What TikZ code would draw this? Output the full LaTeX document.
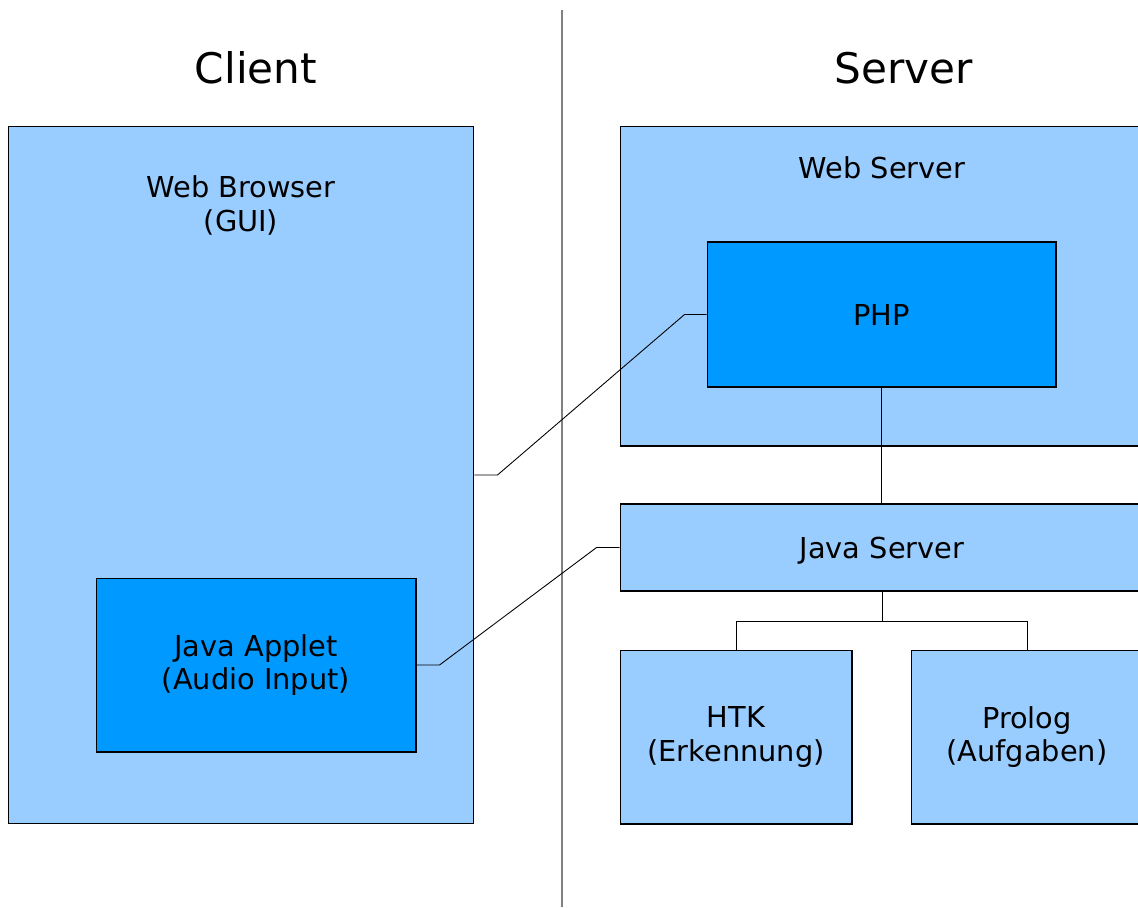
\documentclass[tikz,border=0pt]{standalone}
\usepackage{fontspec}
\setmainfont{DejaVu Sans}
\usepackage{xcolor}
\usepackage{tikz}
\usetikzlibrary{positioning,calc}
\definecolor{paleblue}{RGB}{153,204,255}
\definecolor{deepblue}{RGB}{0,153,255}

\begin{document}
\begin{tikzpicture}[x=0.02cm, y=-0.02cm,
  side/.style={font=\fontsize{24}{28}\selectfont},
  lbl/.style={align=center, font=\fontsize{16.4}{19}\selectfont},
  outer/.style={draw, line width=0.6pt, fill=paleblue, align=center, inner sep=0pt, font=\fontsize{16.4}{19}\selectfont},
  inner/.style={draw, line width=0.6pt, fill=deepblue, align=center, inner sep=0pt, font=\fontsize{16.4}{19}\selectfont},
  link/.style={line width=0.5pt, line join=miter},
]
  \useasboundingbox (0,0) rectangle (1138,907);
  \clip (0,0) rectangle (1138,907);

  % divider
  \coordinate (top) at (562,10);
  \coordinate (bottom) at (562,907);
  \draw[gray, line width=0.6pt] (top) -- (bottom);
  \node[side] (client) at (256,68) {Client};
  \node[side] (server) at (904,68) {Server};

  % client side
  \node[outer, minimum width=9.32cm, minimum height=13.96cm] (browser) at (241,475) {};
  \node[lbl] (browsertxt) at (241,205.5) {Web Browser\\(GUI)};
  \node[inner, minimum width=6.4cm, minimum height=3.48cm] (applet) at (256,665) {Java Applet\\(Audio Input)};

  % server side
  \node[outer, minimum width=10.48cm, minimum height=6.4cm] (webserver) at (882,286) {};
  \node[lbl] (webservertxt) at (882,168) {Web Server};
  \node[inner, minimum width=6.98cm, minimum height=2.9cm] (php) at (881.5,314.5) {PHP};
  \node[outer, minimum width=10.48cm, minimum height=1.74cm, text height=12.6pt, text depth=0pt] (javaserver) at (882,547.5) {Java Server};
  \node[outer, minimum width=4.64cm, minimum height=3.48cm] (htk) at (736,737) {HTK\\(Erkennung)};
  \node[outer, minimum width=4.64cm, minimum height=3.48cm] (prolog) at (1027,737) {Prolog\\(Aufgaben)};

  \draw[link] (browser.east) -- ++(23,0) -- ($(php.west)+(-22,0)$) -- (php.west);
  \draw[link] (applet.east) -- ++(23,0) -- ($(javaserver.west)+(-23,0)$) -- (javaserver.west);
  \draw[link] (php.south) -- (php.south |- javaserver.north);
  \draw[link] (javaserver.south) -- ++(0,30) coordinate (fork) -| (htk.north);
  \draw[link] (fork) -| (prolog.north);
\end{tikzpicture}
\end{document}
